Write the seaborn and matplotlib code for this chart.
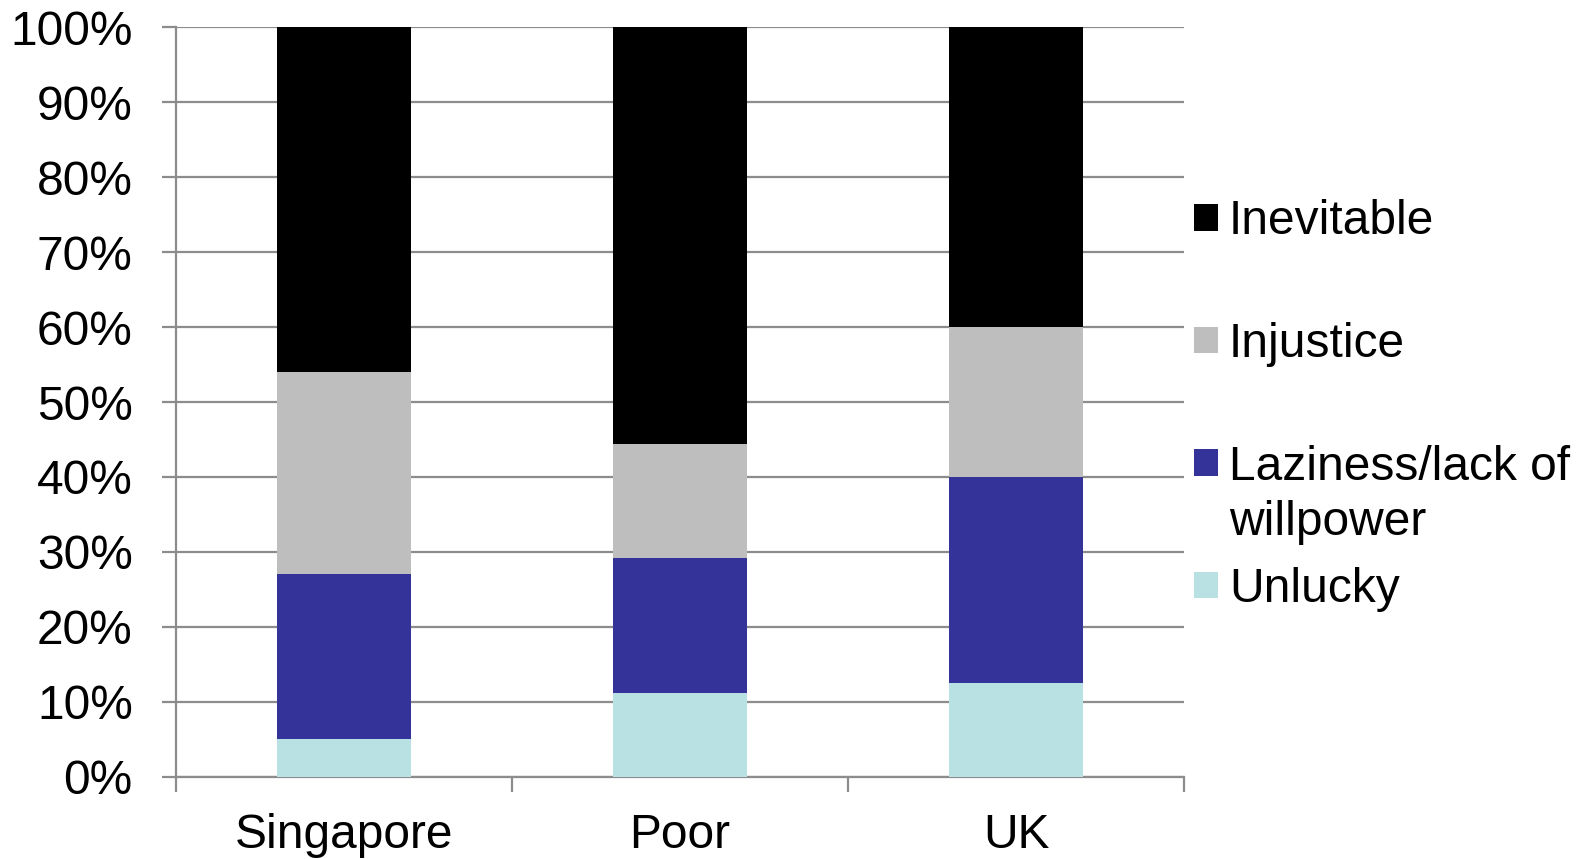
import matplotlib
matplotlib.use("Agg")
import matplotlib.pyplot as plt
from matplotlib.patches import Patch
from matplotlib.ticker import FixedLocator, PercentFormatter
import numpy as np
import pandas as pd
import seaborn as sns

# Share of responses per group (percent)
categories = ["Singapore", "Poor", "UK"]
unlucky = [5.0, 11.1, 12.5]
laziness = [22.0, 18.1, 27.5]
injustice = [27.0, 15.2, 20.0]
inevitable = [46.0, 55.6, 40.0]

series_names = ["Unlucky", "Laziness/lack of\nwillpower", "Injustice", "Inevitable"]
series_values = [unlucky, laziness, injustice, inevitable]
series_colors = ["#B9E0E3", "#333399", "#BEBEBE", "#000000"]

sns.set_theme(style="white")
plt.rcParams["font.family"] = ["Liberation Sans", "DejaVu Sans"]
FS = 34.5

fig = plt.figure(figsize=(15.84, 8.59), dpi=100)
ax = fig.add_axes([0.111, 0.096, 0.6365, 0.872])

# Stacked bars: draw running totals from the tallest down
cum = np.cumsum(np.array(series_values), axis=0)
for i in range(len(series_names) - 1, -1, -1):
    df = pd.DataFrame({"group": categories, "value": cum[i]})
    sns.barplot(data=df, x="group", y="value", color=series_colors[i],
                width=0.4, saturation=1, linewidth=0, ax=ax, zorder=3)

grid_col = "#8C8C8C"
ax.set_ylim(0, 100)
ax.set_xlim(-0.5, len(categories) - 0.5)
ax.set_yticks(np.arange(0, 101, 10))
ax.yaxis.set_major_formatter(PercentFormatter(decimals=0))
ax.yaxis.grid(True, color=grid_col, linewidth=1.6, zorder=0)
ax.set_axisbelow(True)
ax.set_xlabel("")
ax.set_ylabel("")

for side in ["top", "right"]:
    ax.spines[side].set_visible(False)
for side in ["left", "bottom"]:
    ax.spines[side].set_color(grid_col)
    ax.spines[side].set_linewidth(1.6)

ax.tick_params(axis="y", which="major", left=True, length=10, width=1.6,
               color=grid_col, pad=21, labelsize=FS, labelcolor="black")
ax.tick_params(axis="x", which="major", bottom=True, length=0, pad=26,
               labelsize=FS, labelcolor="black")
ax.xaxis.set_minor_locator(FixedLocator(np.arange(-0.5, len(categories), 1.0)))
ax.tick_params(axis="x", which="minor", bottom=True, length=11, width=1.6,
               color=grid_col)

# Legend, top entry first
handles = [Patch(facecolor=c, edgecolor="none") for c in series_colors[::-1]]
labels = [n.split("\n")[0] for n in series_names[::-1]]
leg = fig.legend(handles, labels, loc="upper left",
                 bbox_to_anchor=(0.7535, 0.768), frameon=False, fontsize=FS,
                 labelcolor="black",
                 handlelength=0.52, handleheight=0.48, handletextpad=0.22,
                 labelspacing=1.62, borderaxespad=0, borderpad=0)

fig.canvas.draw()
# Second line of the wrapped legend label
wrap_text = leg.get_texts()[2]
first_line = series_names[1].split("\n")
bb = wrap_text.get_window_extent().transformed(fig.transFigure.inverted())
fig.text(bb.x0, bb.y0 - 0.012, first_line[1], fontsize=FS, color="black",
         ha="left", va="top")

fig.savefig("out.png", dpi=100)
